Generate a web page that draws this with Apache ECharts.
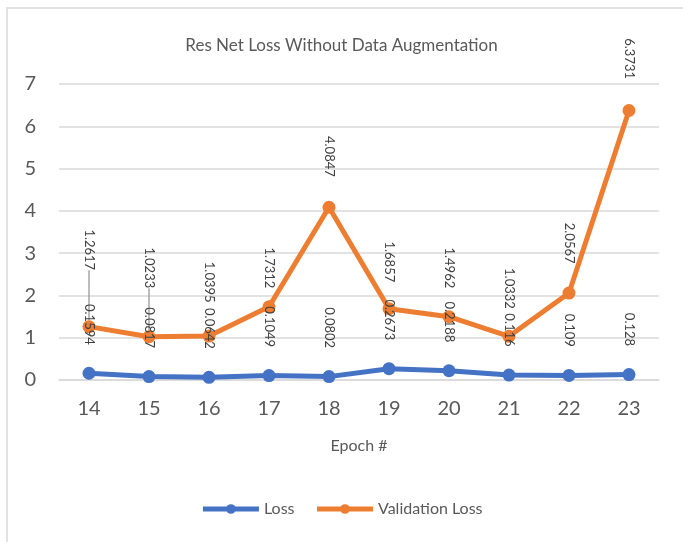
<!DOCTYPE html>
<html>
<head>
<meta charset="utf-8">
<script src="https://cdn.jsdelivr.net/npm/echarts@6/dist/echarts.min.js"></script>
<style>
  html, body { margin: 0; padding: 0; background: #fff; }
  #main { width: 683px; height: 542px; }
</style>
</head>
<body>
<div id="main"></div>
<script>
var epochs = ['14', '15', '16', '17', '18', '19', '20', '21', '22', '23'];
var loss = [0.1594, 0.0817, 0.0642, 0.1049, 0.0802, 0.2673, 0.2188, 0.116, 0.109, 0.128];
var valLoss = [1.2617, 1.0233, 1.0395, 1.7312, 4.0847, 1.6857, 1.4962, 1.0332, 2.0567, 6.3731];

// gap (px) between each validation point and its label, as placed in the original
var valLabelGap = [50, 42, 27, 12, 24, 20, 22, 21, 23, 25];

var chartDom = document.getElementById('main');
var myChart = echarts.init(chartDom);
var option;

var font = 'Lato, "Open Sans", sans-serif';

function labelStyle(dist) {
  return {
    show: true,
    position: 'top',
    distance: dist,
    rotate: -90,
    align: 'right',
    verticalAlign: 'middle',
    color: '#404040',
    fontFamily: font,
    fontSize: 13
  };
}

var valData = valLoss.map(function (v, i) {
  var item = { value: v, label: { distance: valLabelGap[i] } };
  if (valLabelGap[i] > 40) {
    item.labelLine = {
      show: true,
      length2: 0,
      lineStyle: { color: '#a6a6a6', width: 1.5 }
    };
  }
  return item;
});

option = {
  textStyle: { fontFamily: font },
  graphic: [
    {
      type: 'rect',
      shape: { x: 7, y: 8, width: 700, height: 560 },
      style: { fill: 'none', stroke: '#d9d9d9', lineWidth: 1.5 },
      silent: true
    }
  ],
  title: {
    text: 'Res Net Loss Without Data Augmentation',
    left: 'center',
    top: 32,
    textStyle: {
      color: '#595959',
      fontSize: 17,
      fontWeight: 'normal',
      fontFamily: font
    }
  },
  legend: {
    bottom: 20,
    left: 'center',
    itemWidth: 56,
    itemHeight: 12,
    itemGap: 20,
    lineStyle: { width: 5 },
    textStyle: { color: '#595959', fontSize: 16, fontFamily: font },
    data: ['Loss', 'Validation Loss']
  },
  color: ['#4472C4', '#ED7D31'],
  grid: {
    left: 59,
    right: 24,
    top: 84,
    bottom: 162
  },
  xAxis: {
    type: 'category',
    data: epochs,
    boundaryGap: true,
    name: 'Epoch #',
    nameLocation: 'middle',
    nameGap: 58,
    nameTextStyle: { color: '#595959', fontSize: 16, fontFamily: font },
    axisLine: { lineStyle: { color: '#d9d9d9', width: 1.5 } },
    axisTick: { show: false },
    axisLabel: { color: '#595959', fontSize: 20, margin: 19, fontFamily: font }
  },
  yAxis: {
    type: 'value',
    min: 0,
    max: 7,
    interval: 1,
    axisLine: { show: false },
    axisTick: { show: false },
    splitLine: { lineStyle: { color: '#d9d9d9', width: 1.5 } },
    axisLabel: { color: '#595959', fontSize: 20, margin: 23, fontFamily: font }
  },
  series: [
    {
      name: 'Loss',
      type: 'line',
      data: loss,
      symbol: 'circle',
      symbolSize: 13,
      lineStyle: { width: 5 },
      label: labelStyle(22),
      z: 3
    },
    {
      name: 'Validation Loss',
      type: 'line',
      data: valData,
      symbol: 'circle',
      symbolSize: 13,
      lineStyle: { width: 5 },
      label: labelStyle(15),
      z: 2
    }
  ]
};

option && myChart.setOption(option);
</script>
</body>
</html>
